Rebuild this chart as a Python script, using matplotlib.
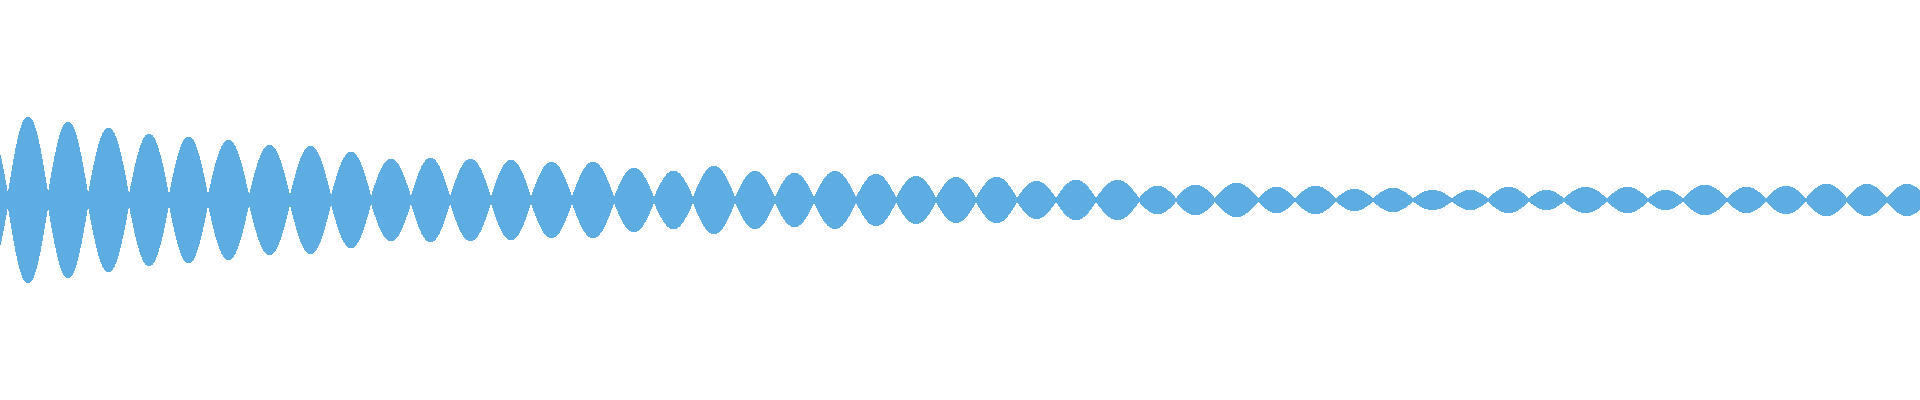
import numpy as np
import matplotlib
matplotlib.use("Agg")
import matplotlib.pyplot as plt

# Node positions (zero crossings of the envelope), in horizontal pixel units
nodes = [-32, 8, 48, 88, 129, 169, 208, 249, 290, 331, 371, 411, 450,
         491, 531, 572, 614, 654, 693, 735, 775, 814, 856, 896, 936,
         976, 1017, 1056, 1096, 1139, 1176, 1215, 1258, 1295, 1336, 1373, 1413,
         1452, 1488, 1529, 1564, 1607, 1648, 1683, 1727, 1766, 1806, 1847, 1887, 1927]

# Peak amplitude of each lobe between consecutive nodes
peaks = [72, 82, 77, 71, 65, 62, 59, 54, 53, 47, 40, 41, 40,
         39, 37, 37, 31, 28, 33, 28, 26, 28, 25, 23, 22,
         22, 18, 19, 19, 13, 14, 16, 12, 13, 10, 11, 9,
         9, 12, 9, 12, 12, 9, 14, 12, 13, 15, 15, 15]

COLOR = "#5DADE2"

fig = plt.figure(figsize=(19.2, 4.0), dpi=100)
ax = fig.add_axes([0, 0, 1, 1])

xs, ys = [], []
t = np.linspace(0, 1, 80)
for i, p in enumerate(peaks):
    a, b = nodes[i], nodes[i + 1]
    xs.append(a + t * (b - a))
    ys.append(p * np.sin(np.pi * t))
x = np.concatenate(xs)
y = np.concatenate(ys)

ax.fill_between(x, -y, y, color=COLOR, linewidth=0.8, edgecolor=COLOR,
                antialiased=False)
ax.set_xlim(0, 1920)
ax.set_ylim(-200, 200)
ax.axis("off")
fig.savefig("out.png", dpi=100, facecolor="white")
